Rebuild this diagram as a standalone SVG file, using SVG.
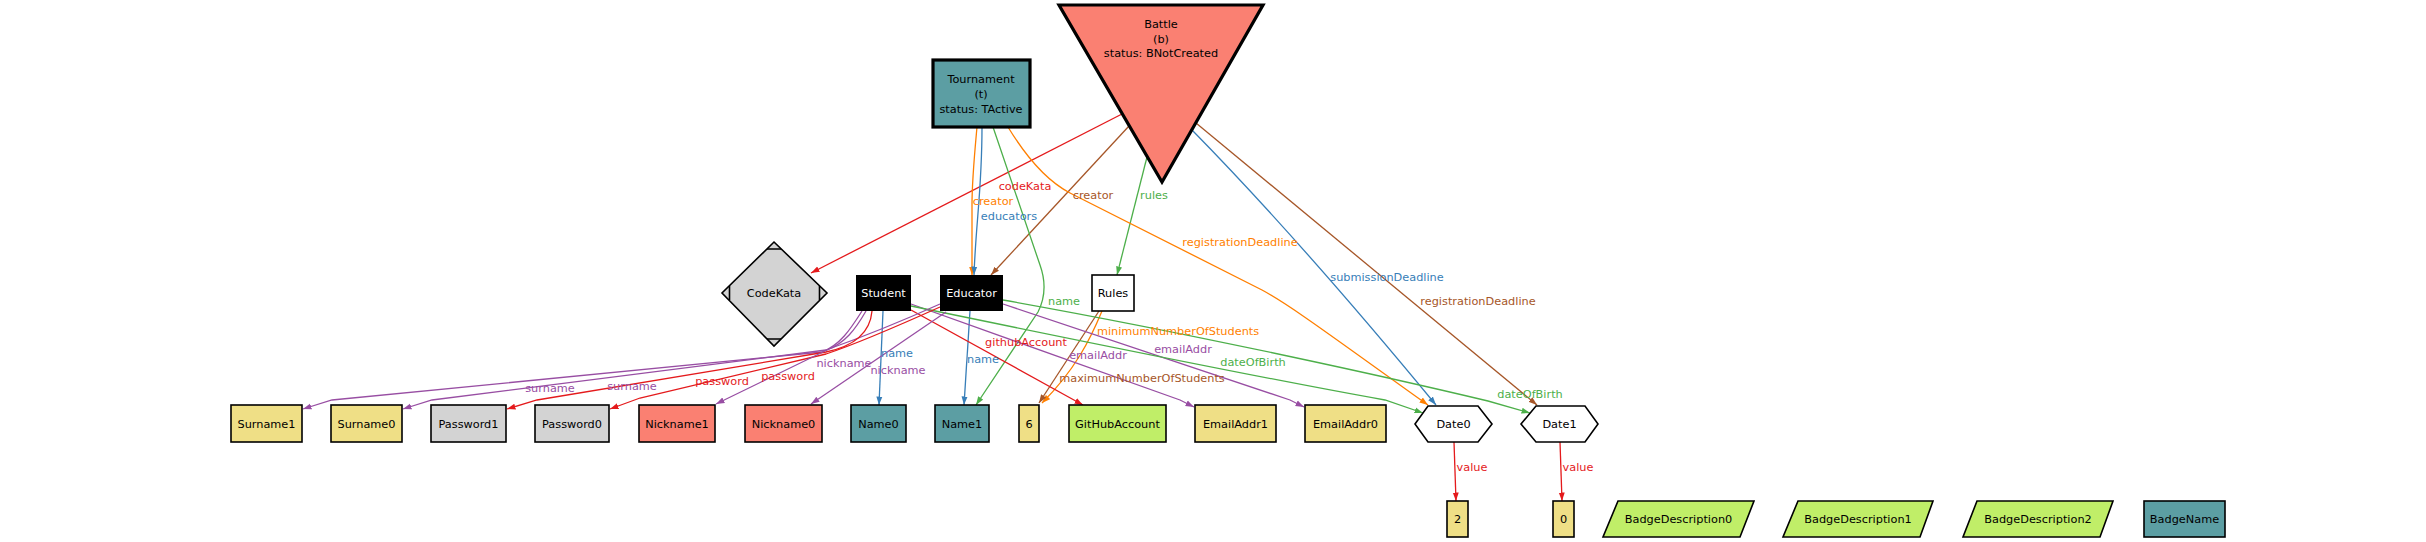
<svg xmlns="http://www.w3.org/2000/svg" width="2426" height="542" viewBox="0 0 2426 542">
<style>
text{font-family:"DejaVu Sans","Liberation Sans",sans-serif;font-size:11.3px;text-anchor:middle;}
.n{stroke:#000;stroke-width:1.6;}
.b{stroke:#000;stroke-width:3.2;}
.w{fill:#fff;}
.e{fill:none;stroke-width:1.3;}
.r{stroke:#E41A1C;} .tr{fill:#E41A1C;}
.bl{stroke:#377EB8;} .tbl{fill:#377EB8;}
.g{stroke:#4DAF4A;} .tg{fill:#4DAF4A;}
.p{stroke:#984EA3;} .tp{fill:#984EA3;}
.o{stroke:#FF7F00;} .to{fill:#FF7F00;}
.br{stroke:#A65628;} .tbr{fill:#A65628;}
.kh{fill:#EFDF86;} .tl{fill:#5C9EA3;} .sa{fill:#FA8072;} .gr{fill:#D3D3D3;} .lg{fill:#C0EE68;}
</style>
<defs>
<marker id="mr" markerUnits="userSpaceOnUse" markerWidth="9" markerHeight="7" refX="8.5" refY="3.5" orient="auto"><path d="M0,0.5 L8.5,3.5 L0,6.5 z" fill="#E41A1C"/></marker>
<marker id="mbl" markerUnits="userSpaceOnUse" markerWidth="9" markerHeight="7" refX="8.5" refY="3.5" orient="auto"><path d="M0,0.5 L8.5,3.5 L0,6.5 z" fill="#377EB8"/></marker>
<marker id="mg" markerUnits="userSpaceOnUse" markerWidth="9" markerHeight="7" refX="8.5" refY="3.5" orient="auto"><path d="M0,0.5 L8.5,3.5 L0,6.5 z" fill="#4DAF4A"/></marker>
<marker id="mp" markerUnits="userSpaceOnUse" markerWidth="9" markerHeight="7" refX="8.5" refY="3.5" orient="auto"><path d="M0,0.5 L8.5,3.5 L0,6.5 z" fill="#984EA3"/></marker>
<marker id="mo" markerUnits="userSpaceOnUse" markerWidth="9" markerHeight="7" refX="8.5" refY="3.5" orient="auto"><path d="M0,0.5 L8.5,3.5 L0,6.5 z" fill="#FF7F00"/></marker>
<marker id="mbr" markerUnits="userSpaceOnUse" markerWidth="9" markerHeight="7" refX="8.5" refY="3.5" orient="auto"><path d="M0,0.5 L8.5,3.5 L0,6.5 z" fill="#A65628"/></marker>
</defs>
<rect width="2426" height="542" fill="#fff"/>

<g id="connectors">
<path class="e r" marker-end="url(#mr)" d="M1122,114 L811,273"/>
<path class="e br" marker-end="url(#mbr)" d="M1129,126 L991,275"/>
<path class="e g" marker-end="url(#mg)" d="M1147,157 L1117,275"/>
<path class="e bl" marker-end="url(#mbl)" d="M1192,130 Q1300,240 1436,405"/>
<path class="e br" marker-end="url(#mbr)" d="M1196,123 L1537,405"/>
<path class="e o" marker-end="url(#mo)" d="M977,127 C974,160 972,180 972,205 L972,275"/>
<path class="e bl" marker-end="url(#mbl)" d="M982,127 C982,190 976,220 974,275"/>
<path class="e g" marker-end="url(#mg)" d="M993,127 L1040,265 Q1049,290 1038,312 L976,405"/>
<path class="e o" marker-end="url(#mo)" d="M1008,127 C1025,155 1045,180 1070,193 L1262,290 C1290,305 1330,335 1428,405"/>
<path class="e o" marker-end="url(#mo)" d="M1102,311 C1090,340 1075,370 1042,403"/>
<path class="e br" marker-end="url(#mbr)" d="M1099,311 L1039,403"/>
<path class="e bl" marker-end="url(#mbl)" d="M883,311 L879,405"/>
<path class="e bl" marker-end="url(#mbl)" d="M970,311 L964,405"/>
<path class="e r" marker-end="url(#mr)" d="M911,310 L1083,405"/>
<path class="e p" marker-end="url(#mp)" d="M911,304 L1180,400 L1194,407"/>
<path class="e p" marker-end="url(#mp)" d="M1003,304 L1290,400 L1304,407"/>
<path class="e g" marker-end="url(#mg)" d="M911,306 C1100,345 1300,385 1385,400 L1423,413"/>
<path class="e g" marker-end="url(#mg)" d="M1003,300 C1200,335 1400,380 1488,401 L1530,413"/>
<path class="e p" marker-end="url(#mp)" d="M862,311 C850,330 840,345 822,352 L332,400 L303,409"/>
<path class="e p" marker-end="url(#mp)" d="M940,304 C900,322 860,338 826,350 L432,400 L403,409"/>
<path class="e r" marker-end="url(#mr)" d="M872,311 C870,335 850,347 826,352 L537,400 L507,409"/>
<path class="e r" marker-end="url(#mr)" d="M940,307 C900,325 862,342 826,354 L640,398 L610,409"/>
<path class="e p" marker-end="url(#mp)" d="M866,311 C855,330 845,343 827,350 L716,404"/>
<path class="e p" marker-end="url(#mp)" d="M946,312 L811,404"/>
<path class="e r" marker-end="url(#mr)" d="M1454,442 L1456,501"/>
<path class="e r" marker-end="url(#mr)" d="M1560,442 L1562,501"/>
<g>
<text class="tr" x="1025" y="190">codeKata</text>
<text class="tbr" x="1093" y="199">creator</text>
<text class="tg" x="1154" y="199">rules</text>
<text class="tbl" x="1387" y="281">submissionDeadline</text>
<text class="tbr" x="1478" y="305">registrationDeadline</text>
<text class="to" x="993" y="205">creator</text>
<text class="tbl" x="1009" y="220">educators</text>
<text class="tg" x="1064" y="305">name</text>
<text class="to" x="1240" y="246">registrationDeadline</text>
<text class="to" x="1178" y="335">minimumNumberOfStudents</text>
<text class="tbr" x="1142" y="382">maximumNumberOfStudents</text>
<text class="tbl" x="897" y="357">name</text>
<text class="tbl" x="983" y="363">name</text>
<text class="tr" x="1026" y="346">githubAccount</text>
<text class="tp" x="1098" y="359">emailAddr</text>
<text class="tp" x="1183" y="353">emailAddr</text>
<text class="tg" x="1253" y="366">dateOfBirth</text>
<text class="tg" x="1530" y="398">dateOfBirth</text>
<text class="tp" x="550" y="392">surname</text>
<text class="tp" x="632" y="390">surname</text>
<text class="tr" x="722" y="385">password</text>
<text class="tr" x="788" y="380">password</text>
<text class="tp" x="844" y="367">nickname</text>
<text class="tp" x="898" y="374">nickname</text>
<text class="tr" x="1472" y="471">value</text>
<text class="tr" x="1578" y="471">value</text>
</g>
</g>

<g id="Battle"><polygon class="b sa" points="1059,5 1263,5 1162,182"/><text x="1161" y="28">Battle</text><text x="1161" y="43">(b)</text><text x="1161" y="57">status: BNotCreated</text></g>
<g id="Tournament"><rect class="b tl" x="933" y="60" width="97" height="67"/><text x="981" y="83">Tournament</text><text x="981" y="98">(t)</text><text x="981" y="113">status: TActive</text></g>
<g id="CodeKata"><polygon class="n gr" points="774,242 827,293 774,346 722,293"/><path class="n" fill="none" d="M767,249 L781,249 M767,339 L781,339 M729.5,286 L729.5,300 M819.5,286 L819.5,300"/><text x="774" y="297">CodeKata</text></g>
<g id="Student"><rect x="856" y="275" width="55" height="36" fill="#000"/><text x="883.5" y="297" fill="#fff">Student</text></g>
<g id="Educator"><rect x="940" y="275" width="63" height="36" fill="#000"/><text x="971.5" y="297" fill="#fff">Educator</text></g>
<g id="Rules"><rect class="n w" x="1092" y="275" width="42" height="36"/><text x="1113" y="297">Rules</text></g>
<g id="Surname1"><rect class="n kh" x="231" y="405" width="71" height="37"/><text x="266.5" y="427.5">Surname1</text></g>
<g id="Surname0"><rect class="n kh" x="331" y="405" width="71" height="37"/><text x="366.5" y="427.5">Surname0</text></g>
<g id="Password1"><rect class="n gr" x="431" y="405" width="75" height="37"/><text x="468.5" y="427.5">Password1</text></g>
<g id="Password0"><rect class="n gr" x="535" y="405" width="74" height="37"/><text x="572" y="427.5">Password0</text></g>
<g id="Nickname1"><rect class="n sa" x="639" y="405" width="76" height="37"/><text x="677" y="427.5">Nickname1</text></g>
<g id="Nickname0"><rect class="n sa" x="745" y="405" width="77" height="37"/><text x="783.5" y="427.5">Nickname0</text></g>
<g id="Name0"><rect class="n tl" x="851" y="405" width="55" height="37"/><text x="878.5" y="427.5">Name0</text></g>
<g id="Name1"><rect class="n tl" x="935" y="405" width="54" height="37"/><text x="962" y="427.5">Name1</text></g>
<g id="Six"><rect class="n kh" x="1019" y="405" width="20" height="37"/><text x="1029" y="427.5">6</text></g>
<g id="GitHubAccount"><rect class="n lg" x="1069" y="405" width="97" height="37"/><text x="1117.5" y="427.5">GitHubAccount</text></g>
<g id="EmailAddr1"><rect class="n kh" x="1195" y="405" width="81" height="37"/><text x="1235.5" y="427.5">EmailAddr1</text></g>
<g id="EmailAddr0"><rect class="n kh" x="1305" y="405" width="81" height="37"/><text x="1345.5" y="427.5">EmailAddr0</text></g>
<g id="Date0"><polygon class="n w" points="1415,424 1428,406 1478,406 1492,424 1478,442 1428,442"/><text x="1453.5" y="428">Date0</text></g>
<g id="Date1"><polygon class="n w" points="1521,424 1536,406 1585,406 1598,424 1585,442 1536,442"/><text x="1559.5" y="428">Date1</text></g>
<g id="Two"><rect class="n kh" x="1447" y="501" width="21" height="36"/><text x="1457.5" y="523">2</text></g>
<g id="Zero"><rect class="n kh" x="1553" y="501" width="21" height="36"/><text x="1563.5" y="523">0</text></g>
<g id="BadgeDescription0"><polygon class="n lg" points="1618,501 1754,501 1740,537 1603,537"/><text x="1678.5" y="523">BadgeDescription0</text></g>
<g id="BadgeDescription1"><polygon class="n lg" points="1798,501 1933,501 1920,537 1783,537"/><text x="1858" y="523">BadgeDescription1</text></g>
<g id="BadgeDescription2"><polygon class="n lg" points="1977,501 2113,501 2100,537 1963,537"/><text x="2038" y="523">BadgeDescription2</text></g>
<g id="BadgeName"><rect class="n tl" x="2144" y="501" width="81" height="36"/><text x="2184.5" y="523">BadgeName</text></g>
</svg>
